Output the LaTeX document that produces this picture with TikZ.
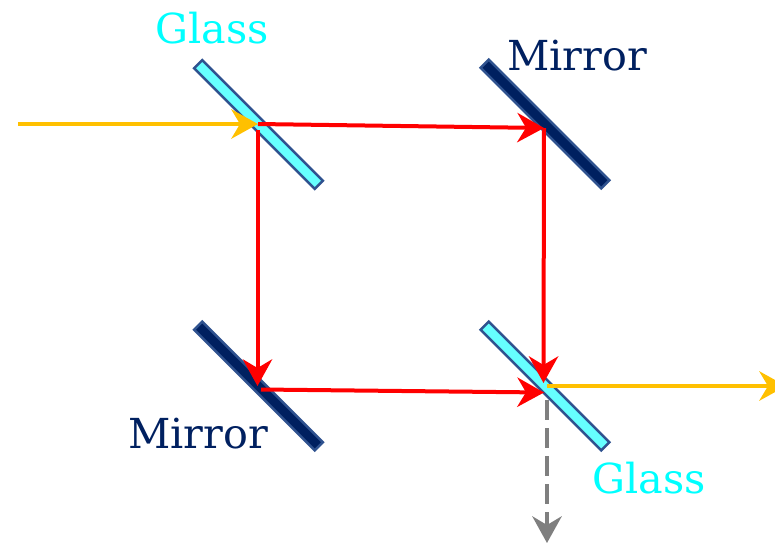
\documentclass[tikz,border=0pt]{standalone}
\usepackage{fontspec}
\setmainfont{DejaVu Serif}
\usepackage{xcolor}
\usetikzlibrary{arrows.meta}
\definecolor{glassfill}{HTML}{66FFFF}
\definecolor{glasstext}{HTML}{00FFFF}
\definecolor{plateedge}{HTML}{2F528F}
\definecolor{mirrorfill}{HTML}{002060}
\definecolor{beamgold}{HTML}{FFC000}
\definecolor{lossgray}{HTML}{7F7F7F}
\tikzset{
  glassplate/.style={draw=plateedge,fill=glassfill,line width=1.9pt,rotate=-45,minimum width=128pt,minimum height=8.6pt,inner sep=0pt,outer sep=0pt},
  mirrorplate/.style={glassplate,fill=mirrorfill},
  beam/.style={line width=3pt,-{Stealth[length=20pt,width=22pt,inset=6.5pt]}},
  platelabel/.style={font=\fontsize{31}{34}\selectfont,inner sep=0pt}
}
\begin{document}
\begin{tikzpicture}[x=0.75pt,y=-0.75pt]
\useasboundingbox (0,0) rectangle (775,544);
% plates
\node[glassplate] (glassin) at (258.5,124.5) {};
\node[mirrorplate] (mirrortop) at (545,124) {};
\node[mirrorplate] (mirrorbot) at (258.5,386) {};
\node[glassplate] (glassout) at (545,386) {};
% labels
\node[platelabel,text=glasstext] (glasstop) at (212,28) {Glass};
\node[platelabel,text=mirrorfill] (mirrorhigh) at (577,56) {Mirror};
\node[platelabel,text=mirrorfill] (mirrorlow) at (198,434) {Mirror};
\node[platelabel,text=glasstext] (glasslow) at (649,478) {Glass};
% beam ends
\coordinate (source) at (18,124);
\coordinate (split) at (258,124);
\coordinate (splitdown) at (257.5,130);
\coordinate (hittop) at (544,128);
\coordinate (hitbot) at (257.5,386);
\coordinate (leavebot) at (261,389.5);
\coordinate (jointop) at (543.5,383);
\coordinate (joinleft) at (544,392.5);
\coordinate (outstart) at (547,386);
\coordinate (outend) at (786,386);
\coordinate (lossstart) at (547,400);
\coordinate (lossend) at (547,543);
% beams
\draw[beam,beamgold] (source) -- (split);
\draw[beam,red] (split) -- (hittop);
\draw[beam,red] (hittop) -- (jointop);
\draw[beam,red] (splitdown) -- (hitbot);
\draw[beam,red] (leavebot) -- (joinleft);
\draw[beam,beamgold] (outstart) -- (outend);
\draw[beam,lossgray,dash pattern=on 15pt off 6pt] (lossstart) -- (lossend);
\end{tikzpicture}
\end{document}
